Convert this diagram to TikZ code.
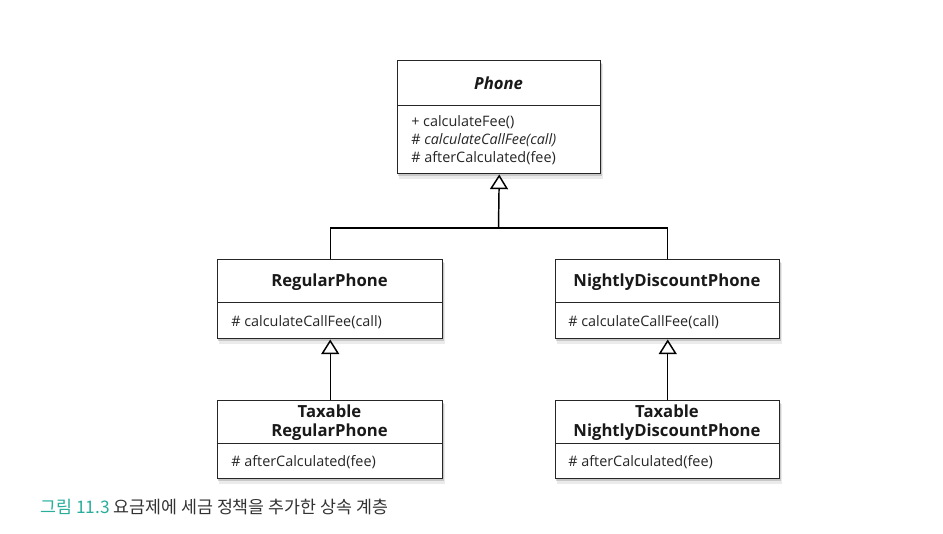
\documentclass[tikz,border=0pt]{standalone}
\usepackage{fontspec}
\setmainfont{Open Sans}
\newfontfamily\krfont{Noto Sans CJK KR}
\usetikzlibrary{arrows.meta,positioning}
\definecolor{capteal}{HTML}{2AAE9C}
\definecolor{captext}{HTML}{333333}
\tikzset{
  u/.style={x=0.75pt,y=-0.75pt},
  bdy/.style={draw=black!85, line width=1.1pt, fill=white, anchor=north west, inner sep=0pt},
  ttl/.style={inner sep=0pt, align=center, font=\fontsize{12.5}{14}\selectfont\bfseries, text=black!90},
  meth/.style={anchor=west, inner sep=0pt, font=\fontsize{10.8}{12}\selectfont, text=black!85},
  inh/.style={line width=1.1pt, -{Triangle[open, width=13.5pt, length=11pt, line width=1.1pt]}},
  ln/.style={line width=1.1pt},
}
\begin{document}
\begin{tikzpicture}[u]
\useasboundingbox (0,0) rectangle (943,533);
% shadows (behind whole class boxes)
\foreach \a/\b/\c/\d in {397/60/600/173, 217/259/442/338, 555/259/779/338, 217/400/442/478, 555/400/779/478}{
  \fill[black, opacity=0.15] (\a+1,\b+3) rectangle (\c+2,\d+3);
  \fill[black, opacity=0.08] (\a+2,\b+4) rectangle (\c+3,\d+5.5);
}
% Phone
\node[bdy, minimum width={203*0.75pt}, minimum height={45*0.75pt}] (phH) at (397,60) {};
\node[ttl, font=\fontsize{12.5}{14}\selectfont\bfseries\itshape] (phT) at (498.5,83) {Phone};
\node[bdy, minimum width={203*0.75pt}, minimum height={68*0.75pt}] (phB) at (397,105) {};
\node[meth] (ph1) at (411,122) {+ calculateFee()};
\node[meth] (ph2) at (411,140) {\# \textit{calculateCallFee(call)}};
\node[meth] (ph3) at (411,158) {\# afterCalculated(fee)};
% RegularPhone
\node[bdy, minimum width={225*0.75pt}, minimum height={43*0.75pt}] (rpH) at (217,259) {};
\node[ttl] (rpT) at (329.5,282) {RegularPhone};
\node[bdy, minimum width={225*0.75pt}, minimum height={36*0.75pt}] (rpB) at (217,302) {};
\node[meth] (rp1) at (231,322) {\# calculateCallFee(call)};
% NightlyDiscountPhone
\node[bdy, minimum width={224*0.75pt}, minimum height={43*0.75pt}] (ndH) at (555,259) {};
\node[ttl] (ndT) at (667,282) {NightlyDiscountPhone};
\node[bdy, minimum width={224*0.75pt}, minimum height={36*0.75pt}] (ndB) at (555,302) {};
\node[meth] (nd1) at (568,322) {\# calculateCallFee(call)};
% Taxable RegularPhone
\node[bdy, minimum width={225*0.75pt}, minimum height={43*0.75pt}] (trH) at (217,400) {};
\node[ttl] (trT) at (329.5,422.5) {Taxable\\RegularPhone};
\node[bdy, minimum width={225*0.75pt}, minimum height={35*0.75pt}] (trB) at (217,443) {};
\node[meth] (tr1) at (231,462) {\# afterCalculated(fee)};
% Taxable NightlyDiscountPhone
\node[bdy, minimum width={224*0.75pt}, minimum height={43*0.75pt}] (tnH) at (555,400) {};
\node[ttl] (tnT) at (667,422.5) {Taxable\\NightlyDiscountPhone};
\node[bdy, minimum width={224*0.75pt}, minimum height={35*0.75pt}] (tnB) at (555,443) {};
\node[meth] (tn1) at (568,462) {\# afterCalculated(fee)};
% connectors
\coordinate (j) at (498.5,228);
\draw[ln] (rpH.north) |- (j);
\draw[ln] (ndH.north) |- (j);
\draw[inh] (j) -- (phB.south);
\draw[inh] (trH.north) -- (rpB.south);
\draw[inh] (tnH.north) -- (ndB.south);
% caption
\node[anchor=west, inner sep=0pt, font=\krfont\fontsize{13}{15}\selectfont, text=captext] (cap) at (40,507)
  {\textcolor{capteal}{그림 11.3} 요금제에 세금 정책을 추가한 상속 계층};
\end{tikzpicture}
\end{document}
